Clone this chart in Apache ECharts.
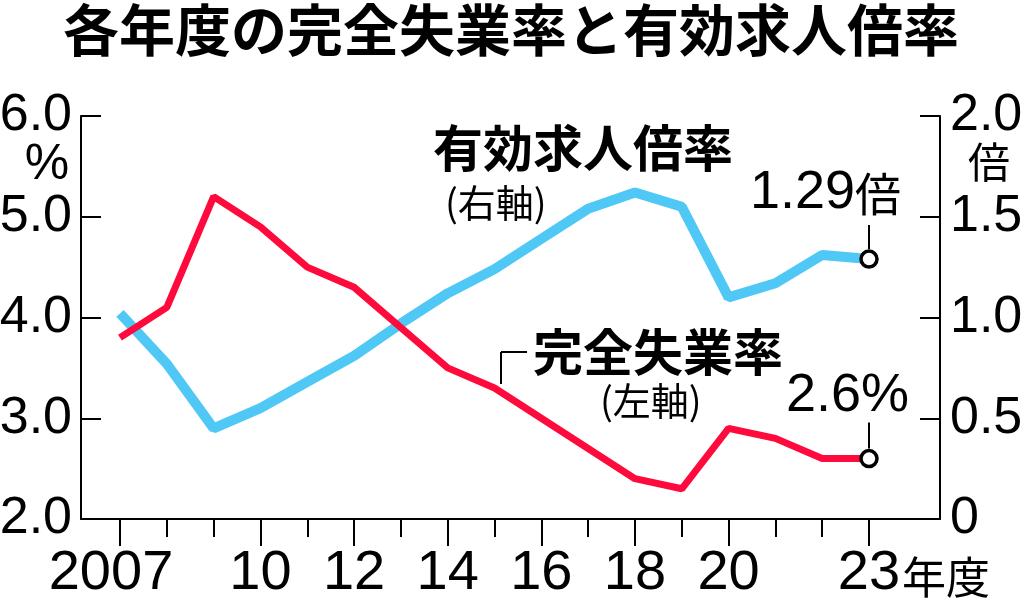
<!DOCTYPE html>
<html><head><meta charset="utf-8">
<script src="https://cdn.jsdelivr.net/npm/echarts@6/dist/echarts.min.js"></script>
<style>html,body{margin:0;padding:0;background:#fff}#c{width:1024px;height:610px}</style>
</head><body><div id="c"></div>
<script>
// ---- data ----
const years = ['2007','2008','2009','2010','2011','2012','2013','2014','2015','2016','2017','2018','2019','2020','2021','2022','2023'];
const labeledYears = ['2007','2010','2012','2014','2016','2018','2020','2023'];
const yearTickLabels = ['2007','10','12','14','16','18','20','23'];
const unemployment = [3.8,4.1,5.2,4.9,4.5,4.3,3.9,3.5,3.3,3.0,2.7,2.4,2.3,2.9,2.8,2.6,2.6];   // %, left axis
const jobsRatio   = [1.02,0.77,0.45,0.55,0.68,0.81,0.97,1.12,1.24,1.39,1.54,1.62,1.55,1.10,1.17,1.31,1.29]; // 倍, right axis
const leftRange = [2, 6, 1];
const rightRange = [0, 2, 0.5];

const NUM = "'Liberation Sans', Arial, sans-serif";
const NARROW = "'Liberation Sans Narrow', 'Arial Narrow', 'Liberation Sans', sans-serif";
const CJK = "'Noto Sans CJK JP', sans-serif";
const RED = '#ff0a3c', BLUE = '#4fc8f6';

const chart = echarts.init(document.getElementById('c'), null, {renderer:'canvas'});
const hiddenY = (min, max) => ({gridIndex:1, type:'value', min, max, show:false, axisLine:{onZero:false}, splitLine:{show:false}});
const tickStyle = {color:'#000', width:2};

const option = {
  animation:false,
  backgroundColor:'#fff',
  grid:[
    {left:81, right:84, top:116, bottom:91, containLabel:false, outerBoundsMode:'none'},
    {left:120, right:155, top:116, bottom:91, containLabel:false, outerBoundsMode:'none'}
  ],
  xAxis:[
    {gridIndex:0, type:'value', min:0, max:1, position:'bottom',
     axisLine:{show:true, onZero:false, lineStyle:tickStyle}, axisTick:{show:false}, axisLabel:{show:false}, splitLine:{show:false}},
    {gridIndex:1, type:'category', data:years, boundaryGap:false, position:'bottom',
     axisLine:{show:false, onZero:false}, axisTick:{show:true, interval:0, length:18, lineStyle:tickStyle},
     axisLabel:{show:false}, splitLine:{show:false}},
    {gridIndex:1, type:'category', data:years, boundaryGap:false, position:'bottom',
     axisLine:{show:false, onZero:false},
     axisTick:{show:true, length:27, lineStyle:tickStyle, interval:(i, v) => labeledYears.includes(v)},
     axisLabel:{show:true, interval:(i, v) => labeledYears.includes(v), margin:27,
       formatter:(v) => { const t = yearTickLabels[labeledYears.indexOf(v)]; return v === '2007' ? '{a|' + t + '}' : '{b|' + t + '}'; },
       rich:{a:{fontFamily:NARROW, fontSize:56, color:'#000', padding:[0,18,0,0]}, b:{fontFamily:NARROW, fontSize:56, color:'#000'}},
       fontFamily:NARROW, fontSize:56, color:'#000'},
     splitLine:{show:false}}
  ],
  yAxis:[
    {gridIndex:0, type:'value', position:'left', min:leftRange[0], max:leftRange[1], interval:leftRange[2],
     axisLine:{show:true, onZero:false, lineStyle:tickStyle}, axisTick:{show:true, inside:true, length:20, lineStyle:tickStyle},
     axisLabel:{fontFamily:NUM, fontSize:52, color:'#000', margin:9, formatter:(v) => v.toFixed(1)}, splitLine:{show:false}},
    {gridIndex:0, type:'value', position:'right', min:rightRange[0], max:rightRange[1], interval:rightRange[2],
     axisLine:{show:true, onZero:false, lineStyle:tickStyle}, axisTick:{show:true, inside:true, length:20, lineStyle:tickStyle},
     axisLabel:{fontFamily:NUM, fontSize:52, color:'#000', margin:10, formatter:(v) => v === 0 ? '0' : v.toFixed(1)}, splitLine:{show:false}},
    hiddenY(leftRange[0], leftRange[1]),
    hiddenY(rightRange[0], rightRange[1])
  ],
  series:[
    {name:'有効求人倍率', type:'line', xAxisIndex:1, yAxisIndex:3, data:jobsRatio, symbol:'none',
     lineStyle:{color:BLUE, width:10}, z:3},
    {name:'完全失業率', type:'line', xAxisIndex:1, yAxisIndex:2, data:unemployment, symbol:'none',
     lineStyle:{color:RED, width:7}, z:4},
    {type:'scatter', xAxisIndex:1, yAxisIndex:3, data:[[years[years.length-1], jobsRatio[jobsRatio.length-1]]],
     symbol:'circle', symbolSize:16, itemStyle:{color:'#fff', borderColor:'#000', borderWidth:3.5, opacity:1}, z:6},
    {type:'scatter', xAxisIndex:1, yAxisIndex:2, data:[[years[years.length-1], unemployment[unemployment.length-1]]],
     symbol:'circle', symbolSize:16, itemStyle:{color:'#fff', borderColor:'#000', borderWidth:3.5, opacity:1}, z:6}
  ]
};
chart.setOption(option);

const last = years.length - 1;
const pB = chart.convertToPixel({xAxisIndex:1, yAxisIndex:3}, [years[last], jobsRatio[last]]);
const pR = chart.convertToPixel({xAxisIndex:1, yAxisIndex:2}, [years[last], unemployment[last]]);
const txt = (text, x, y, font, size, weight, align) => ({type:'text', x, y, z:10,
  style:{text, fill:'#000', font:(weight||'normal') + ' ' + size + 'px ' + font, textAlign:align||'left', textVerticalAlign:'middle'}});
const line = (x1, y1, x2, y2) => ({type:'line', z:10, shape:{x1, y1, x2, y2}, style:{stroke:'#000', lineWidth:2}});

chart.setOption({graphic:[
  txt('各年度の完全失業率と有効求人倍率', 511, 30, CJK, 56, 'bold', 'center'),
  txt('%', 47, 165, NUM, 50, 'normal', 'center'),
  txt('倍', 989, 162, CJK, 42, 'normal', 'center'),
  txt('有効求人倍率', 433, 148, CJK, 50, 'bold'),
  txt('(右軸)', 445, 203, CJK, 38, 'normal'),
  txt('完全失業率', 533, 352, CJK, 50, 'bold'),
  txt('(左軸)', 600, 401, CJK, 38, 'normal'),
  txt('年度', 902, 577, CJK, 44, 'normal'),
  line(501, 352, 527, 352),
  line(501, 352, 501, 384),
  line(pB[0], pB[1] - 10, pB[0], pB[1] - 34),
  line(pR[0], pR[1] - 10, pR[0], pR[1] - 36),
  {type:'text', x:pB[0] + 32, y:pB[1] - 66, z:10, style:{text:'{n|1.29}{u|倍}', textAlign:'right', textVerticalAlign:'middle',
     rich:{n:{fontFamily:NUM, fontSize:54, fill:'#000', fontWeight:'normal'}, u:{fontFamily:CJK, fontSize:46, fill:'#000'}}}},
  {type:'text', x:pR[0] + 40, y:pR[1] - 62, z:10, style:{text:'2.6%', textAlign:'right', textVerticalAlign:'middle',
     font:'normal 54px ' + NUM, fill:'#000'}}
]});
</script></body></html>
